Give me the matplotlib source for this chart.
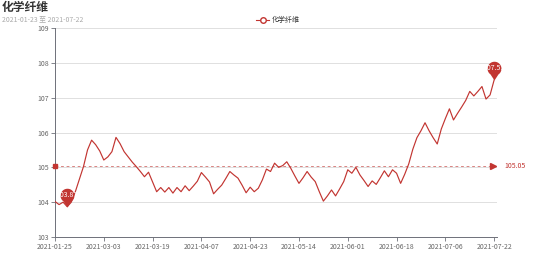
import numpy as np
import matplotlib
matplotlib.use('Agg')
import matplotlib.pyplot as plt
from matplotlib.path import Path

plt.rcParams['font.family'] = ['Noto Sans CJK SC', 'DejaVu Sans']

# data (one value per trading day)
values = [104.02, 103.93, 104.00, 103.87, 104.00, 104.30, 104.66, 105.02, 105.50, 105.78,
          105.65, 105.47, 105.21, 105.30, 105.45, 105.86, 105.68, 105.45, 105.30, 105.15,
          105.02, 104.88, 104.73, 104.86, 104.58, 104.30, 104.42, 104.29, 104.42, 104.26,
          104.42, 104.30, 104.47, 104.33, 104.46, 104.60, 104.85, 104.72, 104.58, 104.24,
          104.37, 104.49, 104.68, 104.88, 104.78, 104.69, 104.49, 104.27, 104.43, 104.30,
          104.40, 104.64, 104.95, 104.88, 105.12, 105.00, 105.05, 105.16, 104.97, 104.75,
          104.54, 104.70, 104.88, 104.72, 104.59, 104.30, 104.03, 104.18, 104.35, 104.18,
          104.38, 104.59, 104.93, 104.83, 105.00, 104.78, 104.62, 104.45, 104.61, 104.51,
          104.70, 104.90, 104.73, 104.93, 104.83, 104.54, 104.80, 105.10, 105.52, 105.85,
          106.05, 106.28, 106.05, 105.85, 105.67, 106.10, 106.40, 106.68, 106.36, 106.55,
          106.73, 106.92, 107.18, 107.05, 107.18, 107.32, 106.96, 107.08, 107.51]
tick_labels = ['2021-01-25', '2021-03-03', '2021-03-19', '2021-04-07', '2021-04-23',
               '2021-05-14', '2021-06-01', '2021-06-18', '2021-07-06', '2021-07-22']
avg_value = 105.05
series_name = '化学纤维'
title = '化学纤维'
subtitle = '2021-01-23 至 2021-07-22'

red = '#c23531'
x = np.arange(len(values))

fig = plt.figure(figsize=(5.54, 2.65), dpi=100)
ax = fig.add_axes([55/554, 1-237/265, 442/554, 209/265])

ax.plot(x, values, color=red, lw=0.85, zorder=3)

# average line
ax.plot([0, 108.7], [avg_value, avg_value], color=red, lw=0.5, ls=(0, (4, 4)), alpha=0.85, zorder=2)
ax.plot(0, avg_value, 's', color=red, ms=2.5, clip_on=False, zorder=4)
ax.plot(107.6, avg_value, '>', color=red, ms=4, clip_on=False, zorder=4)
ax.annotate(f'{avg_value:.2f}', (108.7, avg_value), xytext=(5, 0), textcoords='offset points',
            color=red, fontsize=5, va='center', ha='left', annotation_clip=False)

# pin markers at max / min
t = np.linspace(np.radians(-55), np.radians(235), 40)
verts = np.column_stack([0.65*np.cos(t), 1.1 + 0.65*np.sin(t)])
verts = np.vstack([[0, 0], verts, [0, 0]])
pin = Path(verts, closed=True)
ms = 27
for idx in (int(np.argmax(values)), int(np.argmin(values))):
    ax.plot(idx, values[idx], marker=pin, ms=ms, color=red, mec='none', clip_on=False, zorder=5)
    ax.annotate(f'{values[idx]:.2f}', (idx, values[idx]), xytext=(0, 0.314*ms), textcoords='offset points',
                color='white', fontsize=5, ha='center', va='center', zorder=6, annotation_clip=False)

ax.set_xlim(0, 108.7)
ax.set_ylim(103, 109)
ax.set_yticks(range(103, 110))
ax.set_xticks(x[::12])
ax.set_xticklabels(tick_labels)
ax.tick_params(labelsize=5, colors='#6E7079', length=3, width=0.6, pad=1.5)
ax.tick_params(axis='x', labelcolor='#666666')
ax.tick_params(axis='y', labelcolor='#666666')
ax.grid(axis='y', color='#E0E0E0', lw=0.7)
ax.set_axisbelow(True)
for s in ('top', 'right'):
    ax.spines[s].set_visible(False)
for s in ('left', 'bottom'):
    ax.spines[s].set_color('#6E7079')
    ax.spines[s].set_linewidth(0.7)

fig.text(2/554, 1-8/265, title, fontsize=8.5, fontweight='bold', color='#333333', va='center')
fig.text(2/554, 1-19/265, subtitle, fontsize=5, color='#aaaaaa', va='center')

# legend
ly = 1-20/265
fig.lines.append(plt.Line2D([256/554, 269/554], [ly, ly], transform=fig.transFigure, color=red, lw=0.8))
fig.lines.append(plt.Line2D([262.5/554], [ly], transform=fig.transFigure, color=red, lw=0.8,
                            marker='o', mfc='white', ms=4))
fig.text(272/554, ly, series_name, fontsize=5, color='#333333', va='center')

fig.savefig('out.png', dpi=100)
